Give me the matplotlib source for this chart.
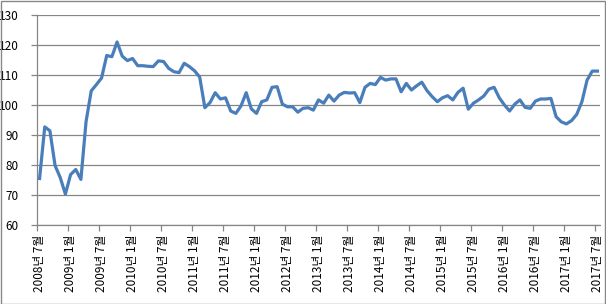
import matplotlib
matplotlib.use("Agg")
import matplotlib.pyplot as plt
from matplotlib.patches import Rectangle

plt.rcParams['font.family'] = ['Noto Sans CJK KR', 'DejaVu Sans']

# Monthly index values, 2008-07 .. 2017-07
values = [
    75.5, 92.7, 91.4, 79.8, 75.8, 70.3, 76.8, 78.5, 75.2, 94.5,
    104.7, 106.8, 109.0, 116.5, 116.1, 121.0, 116.3, 114.8, 115.5, 113.1,
    113.1, 112.9, 112.8, 114.7, 114.5, 112.2, 111.1, 110.8, 113.9, 112.8,
    111.4, 109.3, 99.1, 100.8, 104.1, 102.0, 102.4, 98.0, 97.2, 99.7,
    104.1, 98.7, 97.2, 101.1, 101.7, 105.9, 106.1, 100.3, 99.4, 99.4,
    97.6, 98.9, 99.1, 98.3, 101.7, 100.6, 103.3, 101.3, 103.3, 104.2,
    104.0, 104.1, 100.8, 105.9, 107.2, 106.8, 109.2, 108.3, 108.7, 108.7,
    104.4, 107.2, 105.0, 106.4, 107.6, 104.8, 102.8, 101.1, 102.4, 103.1,
    101.7, 104.2, 105.6, 98.6, 100.6, 101.7, 103.0, 105.3, 105.9, 102.4,
    100.0, 98.0, 100.3, 101.7, 99.2, 98.9, 101.3, 102.0, 102.0, 102.2,
    96.1, 94.4, 93.7, 94.8, 96.9, 101.1, 108.3, 111.3, 111.3,
]

tick_labels = [
    "2008년 7월", "2009년 1월", "2009년 7월", "2010년 1월", "2010년 7월",
    "2011년 1월", "2011년 7월", "2012년 1월", "2012년 7월", "2013년 1월",
    "2013년 7월", "2014년 1월", "2014년 7월", "2015년 1월", "2015년 7월",
    "2016년 1월", "2016년 7월", "2017년 1월", "2017년 7월",
]
label_step = 6
y_ticks = [60, 70, 80, 90, 100, 110, 120, 130]

W, H = 606, 304
fig = plt.figure(figsize=(W / 100, H / 100), dpi=100)
ax = fig.add_axes([37 / W, (H - 225) / H, (600 - 37) / W, 210 / H])

x = list(range(len(values)))
ax.plot(x, values, color='#4A7EBB', linewidth=2.3, solid_joinstyle='round', zorder=3)

grid_c = '#868686'
ax.set_xlim(-0.5, len(values) - 0.5)
ax.set_ylim(60, 130)
ax.set_yticks(y_ticks)
ax.set_yticklabels([str(v) for v in y_ticks], fontsize=8.5)
ax.yaxis.grid(True, color=grid_c, linewidth=0.9)
ax.set_axisbelow(True)

label_pos = [i * label_step for i in range(len(tick_labels))]
ax.set_xticks(label_pos)
ax.set_xticklabels(tick_labels, rotation=90, fontsize=8.5, va='top', ha='center')
ax.set_xticks([p - 0.5 for p in label_pos], minor=True)
ax.tick_params(axis='x', which='major', length=0, pad=7)
ax.tick_params(axis='x', which='minor', length=4, color=grid_c, width=0.9, direction='out')
ax.tick_params(axis='y', length=4, color=grid_c, width=0.9, direction='out', pad=9)

for s in ['top', 'right']:
    ax.spines[s].set_visible(False)
for s in ['left', 'bottom']:
    ax.spines[s].set_color(grid_c)
    ax.spines[s].set_linewidth(0.9)

fig.patches.append(Rectangle((0.5 / W, 0.5 / H), (W - 1.5) / W, (H - 1.5) / H,
                             transform=fig.transFigure, fill=False,
                             edgecolor='#888888', linewidth=1.0))

fig.savefig('out.png', dpi=100)
